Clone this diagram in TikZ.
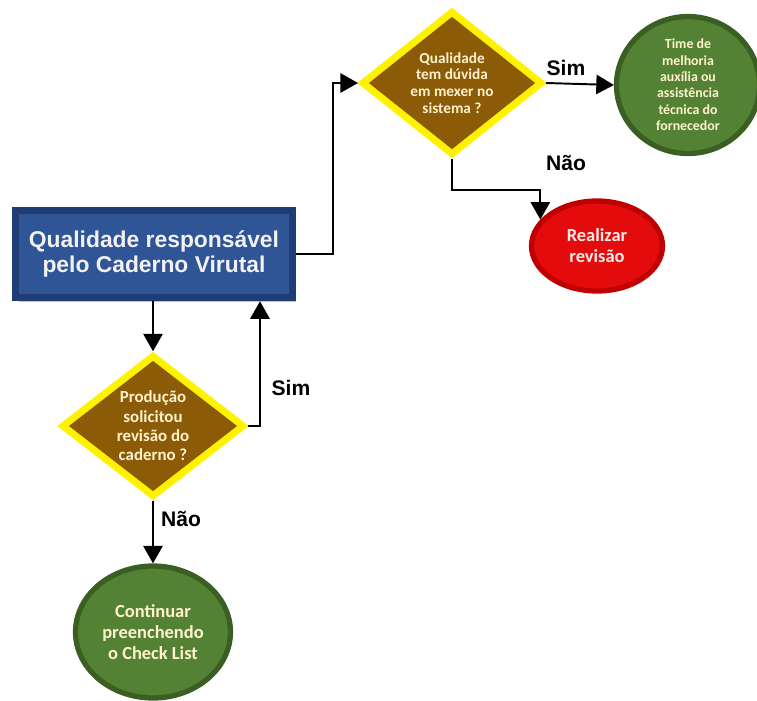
\documentclass[tikz,border=0pt]{standalone}
\usepackage{fontspec}
\setmainfont{Carlito}
\newfontfamily\arialfont{Liberation Sans}
\usepackage{xcolor}
\usepackage{tikz}
\usetikzlibrary{shapes.geometric,arrows.meta,shadows}

\definecolor{boxblue}{HTML}{2F5597}
\definecolor{boxedge}{HTML}{203C74}
\definecolor{qbrown}{HTML}{8C5B07}
\definecolor{qyellow}{HTML}{FFF200}
\definecolor{okgreen}{HTML}{548235}
\definecolor{okedge}{HTML}{3B5E22}
\definecolor{redfill}{HTML}{E30B0B}
\definecolor{rededge}{HTML}{C00000}
\definecolor{cream}{HTML}{FFF2CC}

\tikzset{
  mainbox/.style={rectangle, draw=boxedge, line width=4pt, fill=boxblue,
    minimum width=5.55cm, minimum height=1.75cm, align=center,
    text=white!95!black, font=\arialfont\bfseries\fontsize{13}{14.5}\selectfont,
    drop shadow={shadow xshift=2pt, shadow yshift=-2.5pt, fill=black!45}},
  question/.style={diamond, draw=qyellow, line width=4pt, fill=qbrown,
    inner sep=0pt, align=center, text=cream},
  endgreen/.style={ellipse, draw=okedge, line width=3pt, fill=okgreen,
    inner sep=0pt, align=center, text=cream, font=\bfseries},
  endred/.style={ellipse, draw=rededge, line width=3pt, fill=redfill,
    inner sep=0pt, align=center, text=red!8, font=\bfseries},
  answer/.style={font=\arialfont\bfseries\fontsize{12}{14}\selectfont},
  arr/.style={-{Triangle[length=10pt,width=11pt]}, line width=1.1pt}
}

\begin{document}
\begin{tikzpicture}[x=0.02cm, y=-0.02cm]
\useasboundingbox (0,0) rectangle (757,700);

\node (box) [mainbox] at (154,254) {Qualidade responsável\\pelo Caderno Virutal};
\node (q1) [question, minimum width=3.62cm, minimum height=2.62cm,
  font=\bfseries\fontsize{8.7}{9.6}\selectfont] at (452,83)
  {Qualidade\\tem dúvida\\em mexer no\\sistema ?};
\node (team) [endgreen, minimum width=2.86cm, minimum height=2.74cm,
  font=\bfseries\fontsize{7.9}{9.3}\selectfont] at (688,85)
  {Time de\\melhoria\\auxília ou\\assistência\\técnica do\\fornecedor};
\node (rev) [endred, minimum width=2.62cm, minimum height=1.8cm,
  font=\bfseries\fontsize{10.5}{12}\selectfont] at (597,246)
  {Realizar\\revisão};
\node (q2) [question, minimum width=3.66cm, minimum height=2.7cm,
  font=\bfseries\fontsize{9.6}{11}\selectfont] at (153,426)
  {Produção\\solicitou\\revisão do\\caderno ?};
\node (cont) [endgreen, minimum width=3.1cm, minimum height=2.64cm,
  font=\bfseries\fontsize{10.5}{12}\selectfont] at (153,632)
  {Continuar\\preenchendo\\o Check List};

% answers
\node (sim1) [answer] at (566,68) {Sim};
\node (nao1) [answer] at (566,163) {Não};
\node (sim2) [answer] at (291,388) {Sim};
\node (nao2) [answer] at (181,519) {Não};

\draw [arr] (box.east) -- ++(37,0) |- (q1.west);
\draw [arr] (q1.east) -- (team.west);
\draw [arr] (q1.south) -- ++(0,31) -| (rev.155);
\draw [arr] (q2.north |- box.south) -- (q2.north);
\draw [arr] (q2.east) -| ([xshift=2.12cm]box.south);
\draw [arr] (q2.south) -- (cont.north);
\end{tikzpicture}
\end{document}
